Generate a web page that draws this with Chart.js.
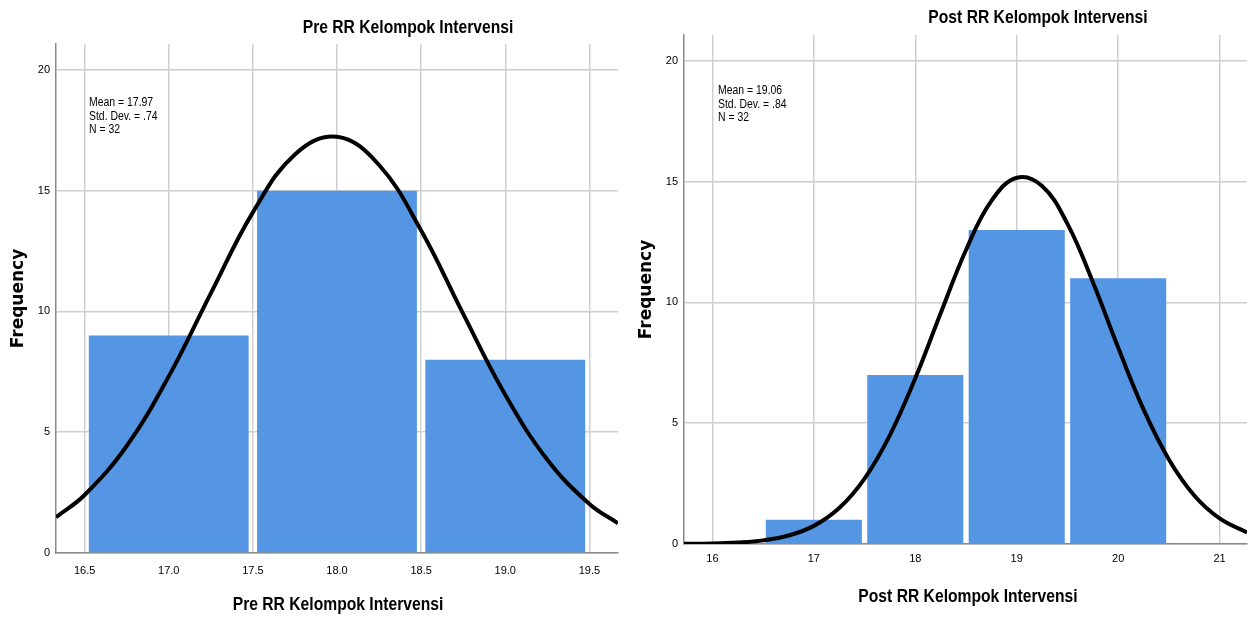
<!DOCTYPE html>
<html>
<head>
<meta charset="utf-8">
<script src="https://cdn.jsdelivr.net/npm/chart.js@4"></script>
<style>
  html, body { margin: 0; padding: 0; background: #fff; }
  .box { position: absolute; top: 0; height: 618px; }
  #leftBox { left: 0; width: 626px; }
  #rightBox { left: 626px; width: 627px; }
</style>
</head>
<body>
<div class="box" id="leftBox"><canvas id="preChart"></canvas></div>
<div class="box" id="rightBox"><canvas id="postChart"></canvas></div>
<script>
// --- Pre RR data ---
const preBinCenters = [17, 18, 19];
const preCounts = [9, 15, 8];
const preCurveX = [16.33, 16.5, 16.75, 17.0, 17.25, 17.5, 17.75, 18.0, 18.25, 18.5, 18.75, 19.0, 19.25, 19.5, 19.67];
const preCurveY = [1.48, 2.40, 4.43, 7.31, 10.75, 14.10, 16.50, 17.23, 16.06, 13.35, 9.90, 6.55, 3.86, 2.03, 1.23];
const preXTicks = [16.5, 17.0, 17.5, 18.0, 18.5, 19.0, 19.5];
const preStats = ['Mean = 17.97', 'Std. Dev. = .74', 'N = 32'];

// --- Post RR data ---
const postBinCenters = [17, 18, 19, 20];
const postCounts = [1, 7, 13, 11];
const postCurveX = [15.72, 16.0, 16.25, 16.5, 16.75, 17.0, 17.25, 17.5, 17.75, 18.0, 18.25, 18.5, 18.75, 19.0, 19.25, 19.5, 19.75, 20.0, 20.25, 20.5, 20.75, 21.0, 21.27];
const postCurveY = [0.01, 0.02, 0.06, 0.15, 0.35, 0.75, 1.49, 2.71, 4.51, 6.86, 9.55, 12.17, 14.20, 15.16, 14.82, 13.25, 10.85, 8.13, 5.57, 3.50, 2.01, 1.06, 0.48];
const postXTicks = [16, 17, 18, 19, 20, 21];
const postStats = ['Mean = 19.06', 'Std. Dev. = .84', 'N = 32'];

const yTicks = [0, 5, 10, 15, 20];

const SANS = "'Liberation Sans', Arial, sans-serif";
const NARROW_SCALE = 0.87; // squeeze to look like Arial Narrow
const BAR_BLUE = '#5596e4';
const GRID = '#cfcfcf';

// text drawn narrow: chart title, x axis title, stats box
function narrowText(ctx, text, x, y, font, align) {
  ctx.save();
  ctx.font = font;
  ctx.textAlign = align;
  ctx.textBaseline = 'middle';
  ctx.translate(x, y);
  ctx.scale(NARROW_SCALE, 1);
  ctx.fillText(text, 0, 0);
  ctx.restore();
}

const annotate = {
  id: 'annotate',
  afterDraw(chart, args, opts) {
    const ctx = chart.ctx;
    ctx.fillStyle = '#000';
    narrowText(ctx, opts.title, opts.titleX, opts.titleY, 'bold 18px ' + SANS, 'center');
    narrowText(ctx, opts.title, opts.xTitleX, opts.xTitleY, 'bold 18px ' + SANS, 'center');
    opts.stats.forEach(function(s, i) {
      narrowText(ctx, s, opts.statsX, opts.statsY + i * 13.5, '12px ' + SANS, 'left');
    });
  }
};

function makeHistogram(canvasId, cfg) {
  const curve = cfg.curveX.map(function(x, i) { return { x: x, y: cfg.curveY[i] }; });
  const bars = cfg.binCenters.map(function(x, i) { return { x: x, y: cfg.counts[i] }; });

  return new Chart(document.getElementById(canvasId), {
    type: 'bar',
    data: {
      datasets: [
        {
          type: 'line',
          data: curve,
          borderColor: '#000',
          borderWidth: 4,
          pointRadius: 0,
          tension: 0.4,
          fill: false,
          order: 0
        },
        {
          type: 'bar',
          data: bars,
          backgroundColor: BAR_BLUE,
          borderWidth: 0,
          // ruler is the smallest tick gap, so half a bin on the left chart
          barPercentage: cfg.barPct,
          categoryPercentage: 1,
          order: 1
        }
      ]
    },
    options: {
      responsive: true,
      maintainAspectRatio: false,
      animation: false,
      layout: { padding: { left: 0, right: cfg.padRight, top: cfg.padTop, bottom: 0 } },
      plugins: {
        legend: { display: false },
        tooltip: { enabled: false },
        annotate: {
          title: cfg.title, titleX: cfg.titleX, titleY: cfg.titleY,
          xTitleX: cfg.xTitleX, xTitleY: cfg.xTitleY,
          stats: cfg.stats, statsX: cfg.statsX, statsY: cfg.statsY
        }
      },
      scales: {
        x: {
          type: 'linear',
          offset: false,
          min: cfg.xMin,
          max: cfg.xMax,
          afterBuildTicks: function(s) { s.ticks = cfg.xTicks.map(function(v) { return { value: v }; }); },
          afterFit: function(s) { s.height = cfg.xAxisH; },
          grid: { color: GRID, lineWidth: 1.5, drawTicks: false, offset: false },
          border: { color: '#8a8a8a', width: 1.5 },
          ticks: {
            padding: cfg.xTickPad,
            color: '#000',
            font: { family: SANS, size: 11 },
            callback: function(v) { return cfg.xFmt(v); }
          }
        },
        y: {
          type: 'linear',
          min: 0,
          max: 21.07,
          afterBuildTicks: function(s) { s.ticks = yTicks.map(function(v) { return { value: v }; }); },
          afterFit: function(s) { s.width = cfg.yAxisW; },
          grid: { color: GRID, lineWidth: 1.5, drawTicks: false },
          border: { color: '#8a8a8a', width: 1.5 },
          ticks: {
            padding: 6,
            color: '#000',
            font: { family: SANS, size: 11 }
          },
          title: {
            display: true,
            text: 'Frequency',
            color: '#000',
            font: { family: 'DejaVu Sans', size: 17, weight: 'bold' },
            padding: { top: cfg.yTitlePad, bottom: 0 }
          }
        }
      }
    },
    plugins: [annotate]
  });
}

makeHistogram('preChart', {
  binCenters: preBinCenters, counts: preCounts,
  curveX: preCurveX, curveY: preCurveY,
  xTicks: preXTicks, stats: preStats,
  xMin: 16.33, xMax: 19.67,
  xFmt: function(v) { return v.toFixed(1); },
  barPct: 1.90,
  title: 'Pre RR Kelompok Intervensi', titleX: 408, titleY: 28,
  xTitleX: 338, xTitleY: 605,
  statsX: 89, statsY: 103,
  padRight: 8, padTop: 44, xAxisH: 65, yAxisW: 56,
  xTickPad: 11, yTitlePad: 8
});

makeHistogram('postChart', {
  binCenters: postBinCenters, counts: postCounts,
  curveX: postCurveX, curveY: postCurveY,
  xTicks: postXTicks, stats: postStats,
  xMin: 15.72, xMax: 21.27,
  xFmt: function(v) { return String(v); },
  barPct: 0.947,
  title: 'Post RR Kelompok Intervensi', titleX: 412, titleY: 18,
  xTitleX: 342, xTitleY: 597,
  statsX: 92, statsY: 91,
  padRight: 6, padTop: 35, xAxisH: 74, yAxisW: 58,
  xTickPad: 8, yTitlePad: 10
});
</script>
</body>
</html>
